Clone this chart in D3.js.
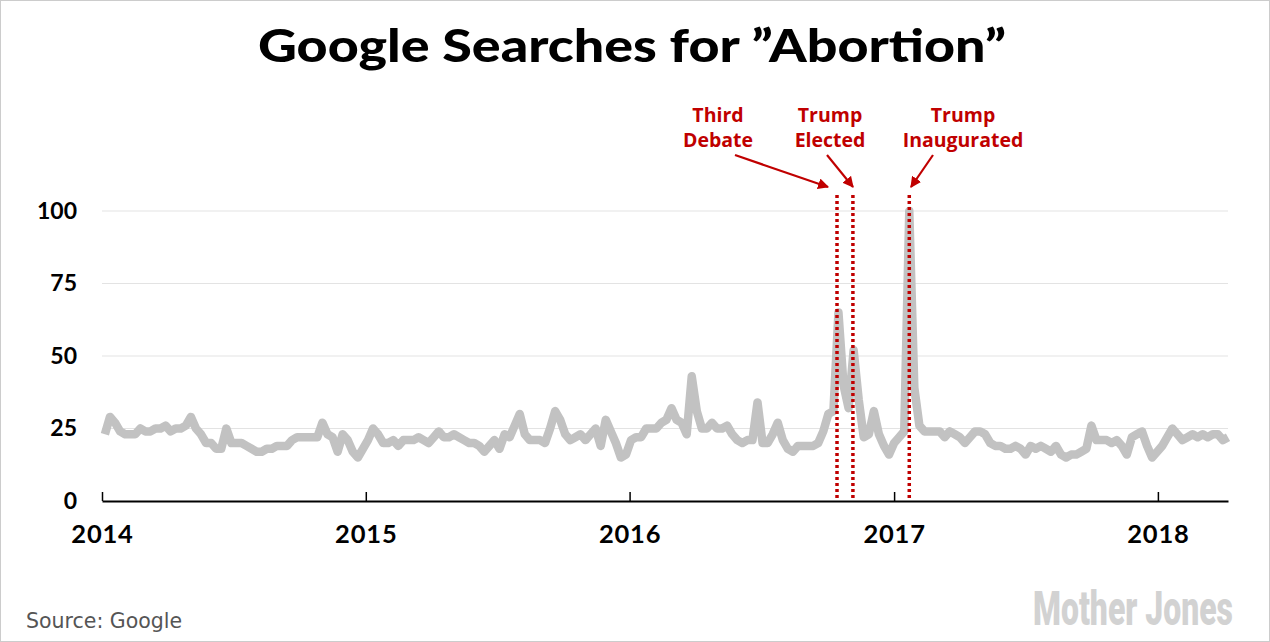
<!DOCTYPE html>
<html>
<head>
<meta charset="utf-8">
<script src="https://cdn.jsdelivr.net/npm/d3@7"></script>
<style>
  body { margin: 0; background: #fff; }
  svg { display: block; }
</style>
</head>
<body>
<div id="chart"></div>
<script>
// weekly Google Trends index, weeks starting Sunday 2014-01-05
const startWeek = new Date(2014, 0, 5);
const searches = [
  23, 29, 27, 24, 23, 23, 23, 25, 24, 24, 25, 25, 26, 24, 25, 25, 26, 29, 25, 23,
  20, 20, 18, 18, 25, 20, 20, 20, 19, 18, 17, 17, 18, 18, 19, 19, 19, 21, 22, 22,
  22, 22, 22, 27, 23, 22, 17, 23, 21, 17, 15, 18, 21, 25, 23, 20, 20, 21, 19, 21,
  21, 21, 22, 21, 20, 22, 24, 22, 22, 23, 22, 21, 20, 20, 19, 17, 19, 21, 18, 23,
  22, 26, 30, 23, 21, 21, 21, 20, 25, 31, 28, 23, 21, 22, 23, 21, 23, 25, 19, 28,
  24, 20, 15, 16, 21, 22, 22, 25, 25, 25, 27, 28, 32, 28, 27, 23, 43, 31, 25, 25,
  27, 25, 25, 26, 23, 21, 20, 21, 21, 34, 20, 20, 23, 27, 21, 18, 17, 19, 19, 19,
  19, 20, 24, 30, 31, 65, 40, 32, 52, 35, 22, 23, 31, 23, 19, 16, 20, 22, 24, 100,
  39, 26, 24, 24, 24, 24, 22, 24, 23, 22, 20, 22, 24, 24, 23, 20, 19, 19, 18, 18,
  19, 18, 16, 19, 18, 19, 18, 17, 19, 16, 15, 16, 16, 17, 18, 26, 21, 21, 21, 20,
  21, 19, 16, 22, 23, 24, 19, 15, 17, 19, 22, 25, 23, 21, 22, 23, 22, 23, 22, 23,
  23, 21, 22
];
const yTicks = [0, 25, 50, 75, 100];
const yearTicks = [2014, 2015, 2016, 2017, 2018];
const eventNames = [["Third", "Debate"], ["Trump", "Elected"], ["Trump", "Inaugurated"]];
const eventDates = [new Date(2016, 9, 14), new Date(2016, 10, 5), new Date(2017, 0, 22)];

const W = 1270, H = 642;
const red = "#c00000";

const data = searches.map((v, i) => ({ date: d3.timeWeek.offset(startWeek, i), value: v }));

const svg = d3.select("#chart").append("svg")
  .attr("width", W).attr("height", H)
  .style("font-family", "Lato, sans-serif");

svg.append("rect")
  .attr("x", 0.5).attr("y", 0.5)
  .attr("width", W - 1).attr("height", H - 1)
  .attr("fill", "#fff").attr("stroke", "#cccccc");

const x = d3.scaleTime()
  .domain([new Date(2014, 0, 1), new Date(2018, 3, 8)])
  .range([102, 1228]);
const y = d3.scaleLinear().domain([0, 100]).range([501, 211]);

// title
svg.append("text")
  .attr("x", 632).attr("y", 62)
  .attr("text-anchor", "middle")
  .attr("font-size", 46).attr("font-weight", 900)
  .attr("textLength", 748).attr("lengthAdjust", "spacingAndGlyphs")
  .text("Google Searches for \u201DAbortion\u201D");

// gridlines
svg.append("g")
  .selectAll("line")
  .data(yTicks.filter(d => d > 0))
  .join("line")
  .attr("x1", 102).attr("x2", 1228)
  .attr("y1", d => y(d)).attr("y2", d => y(d))
  .attr("stroke", "#e3e3e3").attr("stroke-width", 1);

// y labels
const yAxis = svg.append("g")
  .attr("transform", "translate(77,0)")
  .call(d3.axisLeft(y).tickValues(yTicks).tickSize(0).tickPadding(0));
yAxis.select(".domain").remove();
yAxis.selectAll("text")
  .attr("font-family", "Lato, sans-serif")
  .attr("font-size", 23).attr("font-weight", 700)
  .attr("fill", "#000");

// x axis
const xAxis = svg.append("g")
  .attr("transform", "translate(0,501)")
  .call(d3.axisBottom(x)
    .tickValues(yearTicks.map(yr => new Date(yr, 0, 1)))
    .tickFormat(d3.timeFormat("%Y"))
    .tickSize(-9).tickPadding(24)
    .tickSizeOuter(0));
xAxis.select(".domain").attr("stroke", "#000").attr("stroke-width", 2);
xAxis.selectAll(".tick line").attr("stroke", "#000").attr("stroke-width", 1.5);
xAxis.selectAll("text")
  .attr("font-family", "Lato, sans-serif")
  .attr("font-size", 25.5).attr("font-weight", 700)
  .attr("letter-spacing", "0.8px")
  .attr("fill", "#000")
  .attr("dy", "0.71em");

// the line
const line = d3.line()
  .x(d => x(d.date))
  .y(d => y(d.value));

svg.append("path")
  .datum(data)
  .attr("d", line)
  .attr("fill", "none")
  .attr("stroke", "#c2c2c2")
  .attr("stroke-width", 8.5)
  .attr("stroke-linejoin", "round");

// event markers
svg.append("g")
  .selectAll("line")
  .data(eventDates)
  .join("line")
  .attr("x1", d => x(d)).attr("x2", d => x(d))
  .attr("y1", 195).attr("y2", 501)
  .attr("stroke", red).attr("stroke-width", 3.5)
  .attr("stroke-dasharray", "3,3");

const defs = svg.append("defs");
defs.append("marker")
  .attr("id", "arrow")
  .attr("viewBox", "0 0 10 10")
  .attr("refX", 9).attr("refY", 5)
  .attr("markerWidth", 5).attr("markerHeight", 5)
  .attr("markerUnits", "strokeWidth")
  .attr("orient", "auto")
  .append("path")
  .attr("d", "M0,0 L10,5 L0,10 z")
  .attr("fill", red);

const labelX = [718, 830, 963];
const arrowFrom = [[735, 155], [827, 155], [933, 155]];
const arrowTo = [[828, 187], [853, 187], [911, 187]];

const ev = svg.append("g").selectAll("g")
  .data(eventNames)
  .join("g")
  .attr("font-family", "'Open Sans', sans-serif");

ev.append("text")
  .attr("x", (d, i) => labelX[i]).attr("y", 122)
  .attr("text-anchor", "middle")
  .attr("fill", red)
  .attr("font-size", 19.5).attr("font-weight", 700)
  .text(d => d[0]);
ev.append("text")
  .attr("x", (d, i) => labelX[i]).attr("y", 147)
  .attr("text-anchor", "middle")
  .attr("fill", red)
  .attr("font-size", 19.5).attr("font-weight", 700)
  .text(d => d[1]);
ev.append("line")
  .attr("x1", (d, i) => arrowFrom[i][0]).attr("y1", (d, i) => arrowFrom[i][1])
  .attr("x2", (d, i) => arrowTo[i][0]).attr("y2", (d, i) => arrowTo[i][1])
  .attr("stroke", red).attr("stroke-width", 2.2)
  .attr("marker-end", "url(#arrow)");

// source + logo
svg.append("text")
  .attr("x", 26).attr("y", 628)
  .attr("font-family", "DejaVu Sans, sans-serif")
  .attr("font-size", 20.5)
  .attr("fill", "#555")
  .text("Source: Google");

// logo: condensed by scaling the group horizontally to fit 200px
const logo = svg.append("g");
const logoText = logo.append("text")
  .attr("x", 0).attr("y", 0)
  .attr("font-family", "Roboto, sans-serif")
  .attr("font-size", 48).attr("font-weight", 900)
  .attr("fill", "#d2d2d2")
  .text("Mother Jones");
const logoW = logoText.node().getComputedTextLength();
logo.attr("transform", `translate(1033,625) scale(${200 / logoW},1)`);
</script>
</body>
</html>
